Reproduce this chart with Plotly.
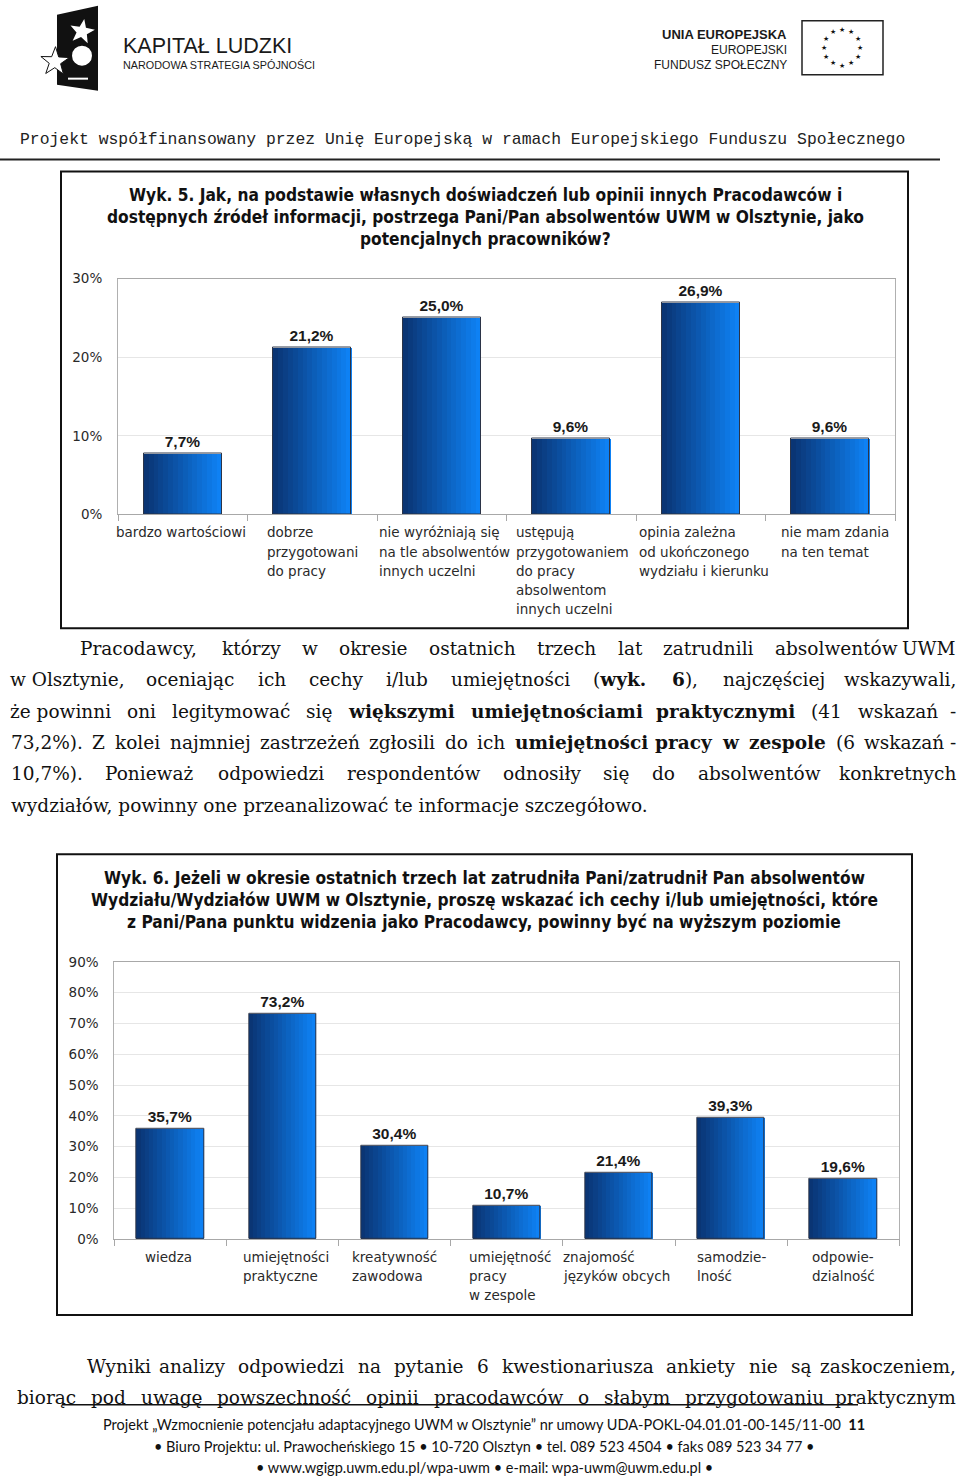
import math
import plotly.graph_objects as go

W, H = 960, 1479
# the page photograph maps figure pixel y to about 6.3 + 0.9898*y; positions below are
# given in target-picture pixels and converted so they land where intended.
Y_OFF, Y_SC = 6.3, 0.9898
def px(x): return x / W
def py(y): return 1 - ((y - Y_OFF) / Y_SC) / H

# ---------------- data ----------------
title5 = ["Wyk. 5. Jak, na podstawie własnych doświadczeń lub opinii innych Pracodawców i",
          "dostępnych źródeł informacji, postrzega Pani/Pan absolwentów UWM w Olsztynie, jako",
          "potencjalnych pracowników?"]
cats5 = ["bardzo wartościowi",
         "dobrze<br>przygotowani<br>do pracy",
         "nie wyróżniają się<br>na tle absolwentów<br>innych uczelni",
         "ustępują<br>przygotowaniem<br>do pracy<br>absolwentom<br>innych uczelni",
         "opinia zależna<br>od ukończonego<br>wydziału i kierunku",
         "nie mam zdania<br>na ten temat"]
vals5 = [7.7, 21.2, 25.0, 9.6, 26.9, 9.6]
ticks5 = [0, 10, 20, 30]

title6 = ["Wyk. 6. Jeżeli w okresie ostatnich trzech lat zatrudniła Pani/zatrudnił Pan absolwentów",
          "Wydziału/Wydziałów UWM w Olsztynie, proszę wskazać ich cechy i/lub umiejętności, które",
          "z Pani/Pana punktu widzenia jako Pracodawcy, powinny być na wyższym poziomie"]
cats6 = ["wiedza",
         "umiejętności<br>praktyczne",
         "kreatywność<br>zawodowa",
         "umiejętność<br>pracy<br>w zespole",
         "znajomość<br>języków obcych",
         "samodzie-<br>lność",
         "odpowie-<br>dzialność"]
vals6 = [35.7, 73.2, 30.4, 10.7, 21.4, 39.3, 19.6]
ticks6 = [0, 10, 20, 30, 40, 50, 60, 70, 80, 90]

header_text = "Projekt współfinansowany przez Unię Europejską w ramach Europejskiego Funduszu Społecznego"

para1 = [
    "Pracodawcy, którzy w okresie ostatnich trzech lat zatrudnili absolwentów UWM",
    "w\u00a0Olsztynie, oceniając ich cechy i/lub umiejętności (**wyk. 6**), najczęściej wskazywali,",
    "że\u00a0powinni oni legitymować się **większymi umiejętnościami praktycznymi** (41 wskazań -",
    "73,2%). Z kolei najmniej zastrzeżeń zgłosili do ich **umiejętności pracy w zespole** (6 wskazań -",
    "10,7%). Ponieważ odpowiedzi respondentów odnosiły się do absolwentów konkretnych",
    "wydziałów, powinny one przeanalizować te informacje szczegółowo.",
]
para2 = [
    "Wyniki analizy odpowiedzi na pytanie 6 kwestionariusza ankiety nie są zaskoczeniem,",
    "biorąc pod uwagę powszechność opinii pracodawców o słabym przygotowaniu praktycznym",
]
footer = [
    "Projekt „Wzmocnienie potencjału adaptacyjnego UWM w Olsztynie” nr umowy UDA-POKL-04.01.01-00-145/11-00\u00a0\u00a0<b>11</b>",
    "• Biuro Projektu: ul. Prawocheńskiego 15 • 10-720 Olsztyn • tel. 089 523 4504 • faks 089 523 34 77 •",
    "• www.wgigp.uwm.edu.pl/wpa-uwm • e-mail: wpa-uwm@uwm.edu.pl •",
]

# ---------------- figure ----------------
fig = go.Figure()
annotations = []
shapes = []

SANS = "DejaVu Sans, Verdana, sans-serif"
NARROW = "DejaVu Sans Condensed, Liberation Sans Narrow, Arial Narrow, sans-serif"
SERIF = "DejaVu Serif, serif"
ARIAL = "Liberation Sans, Arial, sans-serif"

C_LEFT = (10, 50, 112)
C_RIGHT = (14, 132, 248)
NSL = 16
BW = 0.6

def fmt(v):
    return f"{v:.1f}%".replace(".", ",")

def add_bars(cats, vals, xa, ya):
    for i in range(NSL):
        t = (i + 0.5) / NSL
        c = tuple(round(C_LEFT[k] + (C_RIGHT[k] - C_LEFT[k]) * t) for k in range(3))
        fig.add_trace(go.Bar(
            x=cats, y=vals, xaxis=xa, yaxis=ya,
            width=BW / NSL + 0.004, offset=-BW / 2 + i * BW / NSL,
            marker=dict(color=f"rgb{c}", line=dict(width=0)),
            hoverinfo="skip", showlegend=False))
    fig.add_trace(go.Bar(
        x=cats, y=vals, xaxis=xa, yaxis=ya, width=BW, offset=-BW / 2,
        marker=dict(color="rgba(0,0,0,0)", line=dict(color="#2b3448", width=1)),
        text=[fmt(v) for v in vals], textposition="outside", constraintext="none",
        cliponaxis=False,
        textfont=dict(family=ARIAL, size=15.5, color="#1a1a1a", weight="bold"),
        hoverinfo="skip", showlegend=False))

add_bars(cats5, vals5, "x", "y")
add_bars(cats6, vals6, "x2", "y2")

def xaxis_cfg(n, dom):
    return dict(domain=dom, type="category", range=[-0.5, n - 0.5], showticklabels=False,
                ticks="outside", tickson="boundaries", ticklen=6, tickcolor="#a8a8a8",
                showline=True, linecolor="#a8a8a8", linewidth=1, mirror=True, showgrid=False,
                fixedrange=True)

def yaxis_cfg(dom, ticks, anchor):
    return dict(domain=dom, range=[0, ticks[-1]], tickvals=ticks, ticktext=[f"{t}%" for t in ticks],
                showgrid=True, gridcolor="#e6e6e6", gridwidth=1, showline=True, linecolor="#b0b0b0",
                mirror=True, zeroline=False, ticks="", ticklabelstandoff=12, anchor=anchor,
                tickfont=dict(family=SANS, size=13.5, color="#2a2a2a"), fixedrange=True)

fig.update_layout(
    xaxis=dict(xaxis_cfg(len(cats5), [px(118), px(895)]), anchor="y"),
    yaxis=yaxis_cfg([py(513), py(277)], ticks5, "x"),
    xaxis2=dict(xaxis_cfg(len(cats6), [px(114.3), px(899.3)]), anchor="y2"),
    yaxis2=yaxis_cfg([py(1238.3), py(960.7)], ticks6, "x2"),
)

# category labels (left-aligned lines under each category)
def add_cat_labels(cats, xref, shifts, y0, lh=19.2):
    for c, s in zip(cats, shifts):
        for j, line in enumerate(c.split("<br>")):
            annotations.append(dict(x=c, xref=xref, y=py(y0 + j * lh), yref="paper", text=line,
                                    xanchor="left", yanchor="middle", xshift=s, showarrow=False,
                                    font=dict(family=SANS, size=13.5, color="#2a2a2a")))

add_cat_labels(cats5, "x", [-69, -47, -65, -57, -64, -51], 531)
add_cat_labels(cats6, "x2", [-27, -42, -45, -40, -58, -36, -33], 1256)

# chart frames & titles
shapes.append(dict(type="rect", xref="paper", yref="paper", x0=px(61), x1=px(908), y0=py(627), y1=py(170),
                   line=dict(color="#111", width=2)))
shapes.append(dict(type="rect", xref="paper", yref="paper", x0=px(57), x1=px(912), y0=py(1314), y1=py(853),
                   line=dict(color="#111", width=2)))
for j, t in enumerate(title5):
    annotations.append(dict(x=px(485), y=py(193 + 22 * j), xref="paper", yref="paper", text=f"<b>{t}</b>",
                            showarrow=False, xanchor="center", yanchor="middle",
                            font=dict(family=NARROW, size=17.2, color="#111")))
for j, t in enumerate(title6):
    annotations.append(dict(x=px(484), y=py(877 + 22 * j), xref="paper", yref="paper", text=f"<b>{t}</b>",
                            showarrow=False, xanchor="center", yanchor="middle",
                            font=dict(family=NARROW, size=17.2, color="#111")))

# ---------------- text helpers ----------------
CW = {'a': .596, 'b': .640, 'c': .560, 'd': .640, 'e': .592, 'f': .370, 'g': .640, 'h': .644, 'i': .320,
      'j': .310, 'k': .606, 'l': .320, 'm': .948, 'n': .644, 'o': .602, 'p': .640, 'q': .640, 'r': .478,
      's': .513, 't': .402, 'u': .644, 'v': .565, 'w': .856, 'x': .564, 'y': .565, 'z': .523,
      'ą': .596, 'ć': .560, 'ę': .592, 'ł': .330, 'ń': .644, 'ó': .602, 'ś': .513, 'ź': .523, 'ż': .523,
      ' ': .318, '\u00a0': .318, ',': .318, '.': .318, '(': .390, ')': .390, '-': .338, '/': .337, '%': .948}

def est(word, bold, size):
    w = 0
    for ch in word:
        if ch in CW:
            w += CW[ch]
        elif ch.isdigit():
            w += .636
        elif ch.isupper():
            w += .74
        else:
            w += .6
    return w * size * (1.1 if bold else 1.0)

def tokens_of(line):
    out = []
    bold = False
    for raw in line.split(" "):
        parts = raw.split("**")
        html, plain, anyb = "", "", False
        for k, p in enumerate(parts):
            if k > 0:
                bold = not bold
            if p:
                html += f"<b>{p}</b>" if bold else p
                plain += p
                anyb = anyb or bold
        out.append((html, plain, anyb))
    return out

def justify(line, x0, x1, y, size, color="#111", just=True):
    toks = tokens_of(line)
    font = dict(family=SERIF, size=size, color=color)
    if not just:
        html = " ".join(t[0] for t in toks)
        annotations.append(dict(x=px(x0), y=py(y), xref="paper", yref="paper", text=html, showarrow=False,
                                xanchor="left", yanchor="middle", font=font))
        return
    widths = [est(t[1], t[2], size) for t in toks]
    gap = (x1 - x0 - sum(widths)) / (len(toks) - 1)
    pos = x0
    for k, (t, w) in enumerate(zip(toks, widths)):
        if k == len(toks) - 1:
            annotations.append(dict(x=px(x1), y=py(y), xref="paper", yref="paper", text=t[0], showarrow=False,
                                    xanchor="right", yanchor="middle", font=font))
        else:
            annotations.append(dict(x=px(pos), y=py(y), xref="paper", yref="paper", text=t[0], showarrow=False,
                                    xanchor="left", yanchor="middle", font=font))
        pos += w + gap

P_SIZE = 18.5
p1_pos = [(78, 647), (8, 678), (8, 710), (9, 741), (9, 772), (9, 804)]
for k, (line, (x0, y)) in enumerate(zip(para1, p1_pos)):
    justify(line, x0, 958, y, P_SIZE, just=(k < len(para1) - 1))
p2_pos = [(85, 1366), (15, 1397)]
for line, (x0, y) in zip(para2, p2_pos):
    justify(line, x0, 958, y, P_SIZE)

# footer
shapes.append(dict(type="line", xref="paper", yref="paper", x0=px(62), x1=px(858), y0=py(1404), y1=py(1404),
                   line=dict(color="#111", width=1.5)))
for j, t in enumerate(footer):
    annotations.append(dict(x=px(484), y=py(1424 + 21.5 * j), xref="paper", yref="paper", text=t,
                            showarrow=False, xanchor="center", yanchor="middle",
                            font=dict(family="Lato, Open Sans, sans-serif", size=14.5, color="#111")))

# header
annotations.append(dict(x=px(18), y=py(138), xref="paper", yref="paper", text=header_text, showarrow=False,
                        xanchor="left", yanchor="middle",
                        font=dict(family="Liberation Mono, Courier New, monospace", size=16.4, color="#222")))
shapes.append(dict(type="line", xref="paper", yref="paper", x0=0, x1=px(940), y0=py(158), y1=py(158),
                   line=dict(color="#222", width=2)))

# ---- Kapitał Ludzki logo ----
def path(pts):
    return "M " + " L ".join(f"{px(a):.5f},{py(b):.5f}" for a, b in pts) + " Z"

def star(cx, cy, R, r, rot=-90):
    pts = []
    for k in range(10):
        ang = math.radians(rot + k * 36)
        rr = R if k % 2 == 0 else r
        pts.append((cx + rr * math.cos(ang), cy + rr * math.sin(ang)))
    return path(pts)

shapes.append(dict(type="path", xref="paper", yref="paper", path=path([(57, 13), (98, 4), (98, 89), (57, 83)]),
                   fillcolor="#111", line=dict(width=0)))
shapes.append(dict(type="path", xref="paper", yref="paper", path=star(82, 30, 13, 5.5, -80),
                   fillcolor="white", line=dict(width=0)))
shapes.append(dict(type="circle", xref="paper", yref="paper", x0=px(72), x1=px(92), y0=py(64), y1=py(44),
                   fillcolor="white", line=dict(width=0)))
shapes.append(dict(type="path", xref="paper", yref="paper", path=star(55, 60, 15, 6, -160),
                   fillcolor="white", line=dict(color="#111", width=1)))
shapes.append(dict(type="line", xref="paper", yref="paper", x0=px(68), x1=px(88), y0=py(77), y1=py(77),
                   line=dict(color="white", width=2)))
annotations.append(dict(x=px(121), y=py(44), xref="paper", yref="paper", text="KAPITAŁ LUDZKI", showarrow=False,
                        xanchor="left", yanchor="middle",
                        font=dict(family=ARIAL, size=21.5, color="#1a1a1a")))
annotations.append(dict(x=px(121), y=py(63), xref="paper", yref="paper", text="NARODOWA STRATEGIA SPÓJNOŚCI",
                        showarrow=False, xanchor="left", yanchor="middle",
                        font=dict(family=ARIAL, size=10.8, color="#1a1a1a")))

# ---- EU logo ----
annotations.append(dict(x=px(789), y=py(33), xref="paper", yref="paper", text="<b>UNIA EUROPEJSKA</b>",
                        showarrow=False, xanchor="right", yanchor="middle",
                        font=dict(family=ARIAL, size=13, color="#1a1a1a")))
annotations.append(dict(x=px(789), y=py(48), xref="paper", yref="paper", text="EUROPEJSKI",
                        showarrow=False, xanchor="right", yanchor="middle",
                        font=dict(family=ARIAL, size=12, color="#1a1a1a")))
annotations.append(dict(x=px(789), y=py(63), xref="paper", yref="paper", text="FUNDUSZ SPOŁECZNY",
                        showarrow=False, xanchor="right", yanchor="middle",
                        font=dict(family=ARIAL, size=12, color="#1a1a1a")))
shapes.append(dict(type="rect", xref="paper", yref="paper", x0=px(802), x1=px(883), y0=py(73), y1=py(19),
                   line=dict(color="#222", width=1.5)))
for k in range(12):
    ang = math.radians(k * 30)
    annotations.append(dict(x=px(842 + 18 * math.cos(ang)), y=py(46 + 18 * math.sin(ang)), xref="paper",
                            yref="paper", text="★", showarrow=False, xanchor="center", yanchor="middle",
                            font=dict(family="DejaVu Sans", size=7, color="#111")))

fig.update_layout(
    width=W, height=H, margin=dict(l=0, r=0, t=0, b=0),
    paper_bgcolor="white", plot_bgcolor="white",
    barmode="overlay", bargap=0, showlegend=False,
    annotations=annotations, shapes=shapes,
)

POST = (
    "var s=document.createElement('style');"
    "s.innerHTML='html,body{margin:0!important;padding:0!important;overflow:hidden!important;"
    "height:1479px!important;}';"
    "document.head.appendChild(s);"
    "var g=document.getElementsByClassName('plotly-graph-div')[0];"
    "g.style.position='absolute';g.style.top='0px';g.style.left='0px';"
)

fig.write_html("out.html", config={"displayModeBar": False}, post_script=POST)
